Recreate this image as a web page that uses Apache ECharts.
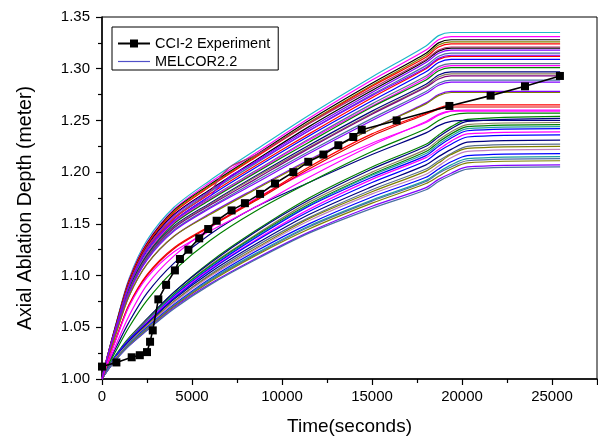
<!DOCTYPE html>
<html><head><meta charset="utf-8">
<script src="https://cdn.jsdelivr.net/npm/echarts@6/dist/echarts.min.js"></script>
<style>html,body{margin:0;padding:0;background:#fff}#c{width:598px;height:441px}</style>
</head><body><div id="c"></div>
<script>
// Experimental data (CCI-2)
const expTime = [0, 800, 1650, 2100, 2500, 2670, 2820, 3130, 3560, 4050, 4330, 4800, 5400, 5900, 6370, 7200, 7940, 8780, 9610, 10630, 11460, 12300, 13130, 13960, 14430, 16370, 19300, 21590, 23500, 25440];
const expDepth = [1.012, 1.016, 1.021, 1.023, 1.026, 1.036, 1.047, 1.077, 1.091, 1.105, 1.116, 1.125, 1.136, 1.145, 1.153, 1.163, 1.170, 1.179, 1.189, 1.200, 1.210, 1.217, 1.226, 1.234, 1.241, 1.250, 1.264, 1.274, 1.283, 1.293];

// MELCOR2.2 sampled runs: common time grid
const melTime = [0, 300, 800, 1500, 2500, 4000, 6000, 8500, 11500, 15000, 18000, 18700, 19400, 20300, 25450];
// fast-rising runs
const upperRuns = [
  [1.000,1.022,1.055,1.097,1.134,1.166,1.192,1.221,1.255,1.292,1.322,1.332,1.335,1.335,1.335],
  [1.000,1.022,1.054,1.096,1.132,1.164,1.190,1.218,1.252,1.289,1.318,1.328,1.331,1.331,1.331],
  [1.000,1.022,1.054,1.095,1.131,1.163,1.188,1.216,1.250,1.286,1.315,1.325,1.328,1.328,1.328],
  [1.000,1.022,1.053,1.094,1.130,1.162,1.187,1.215,1.248,1.284,1.313,1.323,1.326,1.326,1.326],
  [1.000,1.021,1.053,1.094,1.130,1.161,1.186,1.214,1.247,1.283,1.311,1.321,1.324,1.324,1.324],
  [1.000,1.021,1.052,1.092,1.128,1.159,1.183,1.211,1.244,1.279,1.308,1.317,1.320,1.320,1.320],
  [1.000,1.021,1.051,1.091,1.127,1.158,1.182,1.210,1.242,1.277,1.306,1.315,1.318,1.318,1.318],
  [1.000,1.021,1.051,1.091,1.126,1.156,1.181,1.208,1.240,1.275,1.303,1.312,1.315,1.315,1.315],
  [1.000,1.021,1.050,1.090,1.125,1.155,1.179,1.206,1.237,1.272,1.300,1.309,1.312,1.312,1.312],
  [1.000,1.020,1.050,1.089,1.124,1.153,1.177,1.204,1.235,1.269,1.297,1.306,1.309,1.309,1.309],
  [1.000,1.020,1.049,1.088,1.122,1.152,1.175,1.201,1.232,1.266,1.293,1.302,1.305,1.305,1.305],
  [1.000,1.020,1.049,1.087,1.121,1.151,1.174,1.200,1.231,1.264,1.291,1.300,1.303,1.303,1.303],
  [1.000,1.020,1.049,1.087,1.120,1.150,1.173,1.199,1.229,1.263,1.289,1.298,1.301,1.301,1.301],
  [1.000,1.020,1.048,1.086,1.119,1.148,1.170,1.196,1.226,1.259,1.285,1.294,1.297,1.297,1.297],
  [1.000,1.019,1.048,1.085,1.118,1.147,1.169,1.195,1.224,1.257,1.283,1.292,1.295,1.295,1.295],
  [1.000,1.019,1.047,1.084,1.117,1.146,1.168,1.193,1.223,1.256,1.282,1.290,1.293,1.293,1.293],
  [1.000,1.019,1.047,1.083,1.116,1.144,1.166,1.191,1.220,1.252,1.278,1.286,1.289,1.289,1.289],
  [1.000,1.019,1.047,1.083,1.115,1.143,1.165,1.189,1.218,1.250,1.276,1.284,1.287,1.287,1.287],
  [1.000,1.018,1.045,1.080,1.111,1.138,1.160,1.184,1.212,1.242,1.267,1.275,1.278,1.278,1.278],
  [1.000,1.018,1.045,1.080,1.111,1.138,1.159,1.183,1.211,1.242,1.266,1.274,1.277,1.277,1.277],
  [1.000,1.016,1.040,1.072,1.101,1.127,1.148,1.173,1.205,1.237,1.257,1.262,1.265,1.265,1.265],
  [1.000,1.016,1.040,1.071,1.100,1.126,1.147,1.172,1.203,1.235,1.256,1.261,1.263,1.263,1.263],
  [1.000,1.016,1.039,1.070,1.098,1.123,1.143,1.166,1.195,1.226,1.249,1.256,1.259,1.259,1.259]
];
const upperColors = ['#20b8c8','#ff00ff','#000000','#808000','#ff0000','#000000','#8000ff','#4a6fa5','#ff0000','#0000ff','#5a7090','#ff00ff','#008000','#000080','#8b7d5a','#800080','#4a6fa5','#8000ff','#8000ff','#808000','#ff0000','#e00000','#ff00ff'];
// slower-rising runs
const lowerRuns = [
  [1.000,1.010,1.024,1.040,1.058,1.084,1.113,1.143,1.175,1.205,1.227,1.236,1.244,1.251,1.254],
  [1.000,1.010,1.023,1.039,1.058,1.084,1.112,1.142,1.173,1.203,1.225,1.234,1.242,1.249,1.252],
  [1.000,1.010,1.023,1.039,1.057,1.082,1.110,1.139,1.171,1.200,1.222,1.231,1.239,1.246,1.248],
  [1.000,1.010,1.023,1.038,1.056,1.082,1.109,1.138,1.169,1.198,1.220,1.229,1.237,1.244,1.246],
  [1.000,1.010,1.023,1.038,1.056,1.081,1.108,1.137,1.168,1.197,1.218,1.227,1.235,1.242,1.244],
  [1.000,1.009,1.023,1.038,1.055,1.080,1.107,1.136,1.167,1.195,1.216,1.225,1.233,1.240,1.242],
  [1.000,1.009,1.022,1.037,1.055,1.079,1.106,1.134,1.164,1.193,1.214,1.222,1.230,1.237,1.239],
  [1.000,1.009,1.022,1.037,1.054,1.078,1.105,1.133,1.162,1.190,1.211,1.220,1.227,1.234,1.236],
  [1.000,1.009,1.021,1.036,1.053,1.077,1.103,1.130,1.159,1.186,1.207,1.215,1.222,1.229,1.231],
  [1.000,1.009,1.021,1.035,1.052,1.075,1.101,1.128,1.156,1.183,1.203,1.211,1.218,1.225,1.227],
  [1.000,1.009,1.021,1.035,1.052,1.075,1.100,1.126,1.155,1.181,1.201,1.209,1.217,1.223,1.225],
  [1.000,1.009,1.021,1.035,1.051,1.074,1.099,1.125,1.153,1.179,1.198,1.206,1.214,1.220,1.222],
  [1.000,1.009,1.020,1.034,1.050,1.072,1.097,1.123,1.150,1.176,1.195,1.203,1.210,1.216,1.218],
  [1.000,1.008,1.020,1.034,1.049,1.071,1.096,1.121,1.148,1.173,1.192,1.200,1.207,1.213,1.215],
  [1.000,1.008,1.020,1.033,1.049,1.071,1.095,1.120,1.147,1.172,1.191,1.199,1.205,1.211,1.213],
  [1.000,1.008,1.020,1.033,1.048,1.070,1.094,1.119,1.145,1.170,1.189,1.196,1.203,1.209,1.211],
  [1.000,1.008,1.019,1.032,1.047,1.069,1.092,1.116,1.142,1.167,1.185,1.193,1.199,1.205,1.207],
  [1.000,1.008,1.019,1.032,1.047,1.068,1.091,1.115,1.141,1.165,1.183,1.191,1.197,1.203,1.205]
];
const lowerColors = ['#008000','#000080','#8b7d5a','#008000','#20a0a0','#0000ff','#ff00ff','#0000ff','#000080','#5a7090','#808000','#c080c0','#0000ff','#20a0a0','#4a6fa5','#808000','#8000ff','#4a6fa5'];
// runs lying between the two bundles
const midRuns = [
  [1.000,1.013,1.031,1.055,1.083,1.112,1.140,1.166,1.190,1.217,1.238,1.245,1.249,1.250,1.250],
  [1.000,1.012,1.028,1.050,1.076,1.105,1.134,1.162,1.190,1.220,1.242,1.250,1.255,1.257,1.257],
  [1.000,1.014,1.034,1.061,1.091,1.119,1.146,1.174,1.201,1.228,1.248,1.255,1.259,1.260,1.260]
];
const midColors = ['#000080','#008000','#ff00ff'];
// runs with an early bump near 6500 s
const bumpTime = [0, 300, 800, 1500, 2500, 4000, 5000, 6000, 6600, 7200, 8500, 11500, 15000, 18000, 18700, 19400, 20300, 25450];
const bumpRuns = [
  [1.000,1.021,1.051,1.091,1.127,1.156,1.168,1.181,1.196,1.206,1.216,1.247,1.281,1.309,1.318,1.321,1.321,1.321],
  [1.000,1.021,1.051,1.090,1.125,1.153,1.165,1.177,1.188,1.197,1.209,1.240,1.274,1.301,1.310,1.313,1.313,1.313]
];
const bumpColors = ['#b03070','#8000ff'];

const series = [];
series.push({
  type: 'line', name: 'CCI-2 Experiment', symbol: 'rect', symbolSize: 8, z: 10,
  data: expTime.map((t, i) => [t, expDepth[i]]),
  lineStyle: { color: '#000', width: 1.6 }, itemStyle: { color: '#000' }
});
function addRuns(times, runs, colors) {
  runs.forEach((vals, k) => {
    series.push({
      type: 'line', name: 'MELCOR2.2', symbol: 'none', silent: true, z: 2, smooth: 0.3,
      data: times.map((t, i) => [t, vals[i]]),
      lineStyle: { color: colors[k % colors.length], width: 1.2 },
      itemStyle: { color: colors[k % colors.length] }
    });
  });
}
addRuns(melTime, lowerRuns, lowerColors);
addRuns(melTime, midRuns, midColors);
addRuns(melTime, upperRuns, upperColors);
addRuns(bumpTime, bumpRuns, bumpColors);

const chart = echarts.init(document.getElementById('c'), null, { renderer: 'canvas' });
const font = 'Liberation Sans, Arial, sans-serif';
chart.setOption({
  animation: false,
  grid: { left: 102, right: 1, top: 17, bottom: 59, show: true, borderColor: '#000', borderWidth: 1, backgroundColor: 'transparent' },
  legend: {
    show: true, left: 112, top: 27, bottom: 'auto', right: 'auto', orient: 'vertical',
    itemWidth: 32, itemHeight: 10, itemGap: 1,
    padding: [8, 8, 0, 5], borderColor: '#000', borderWidth: 1, backgroundColor: '#fff',
    textStyle: { fontFamily: font, fontSize: 14.5, lineHeight: 17, color: '#000' },
    data: [
      { name: 'CCI-2 Experiment' },
      { name: 'MELCOR2.2', itemStyle: { color: '#5050c8', opacity: 0 }, lineStyle: { color: '#5050c8', width: 1.2 } }
    ]
  },
  xAxis: {
    type: 'value', min: 0, max: 27500, interval: 5000,
    name: 'Time(seconds)', nameLocation: 'middle', nameGap: 38,
    nameTextStyle: { fontFamily: font, fontSize: 19, color: '#000' },
    axisLine: { show: true, lineStyle: { color: '#000', width: 1.5 } },
    axisTick: { show: true, length: 6, lineStyle: { color: '#000', width: 1.2 } },
    minorTick: { show: true, splitNumber: 2, length: 4, lineStyle: { color: '#000', width: 1.2 } },
    splitLine: { show: false },
    axisLabel: { fontFamily: font, fontSize: 15, color: '#000', margin: 10, showMaxLabel: false, formatter: v => String(v) }
  },
  yAxis: {
    type: 'value', min: 1.00, max: 1.35, interval: 0.05,
    name: 'Axial Ablation Depth (meter)', nameLocation: 'middle', nameGap: 66,
    nameTextStyle: { fontFamily: font, fontSize: 19.5, color: '#000', padding: [0, 20, 0, 0] },
    axisLine: { show: true, lineStyle: { color: '#000', width: 1.5 } },
    axisTick: { show: true, length: 6, lineStyle: { color: '#000', width: 1.2 } },
    minorTick: { show: true, splitNumber: 2, length: 4, lineStyle: { color: '#000', width: 1.2 } },
    splitLine: { show: false },
    axisLabel: { fontFamily: font, fontSize: 15, color: '#000', margin: 12, formatter: v => v.toFixed(2) }
  },
  series: series
});
</script></body></html>
